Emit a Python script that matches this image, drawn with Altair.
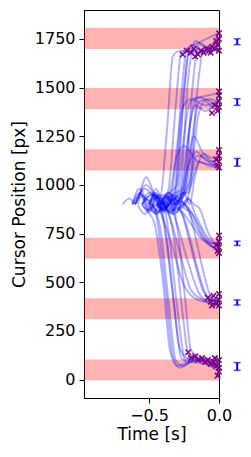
import altair as alt
import pandas as pd

# target bands (px)
band_lo = [-5, 310, 620, 1074, 1389, 1699]
band_hi = [103, 418, 728, 1183, 1498, 1808]

# error bars drawn at the right, outside the axes
err_t = 0.13
err_y = [67, 396, 700, 1116, 1426, 1736]
err_half = [20, 13, 11, 20, 17, 15]

# cursor trajectories (time [s], position [px])
traj_t = [
    # top target
    [-0.62, -0.57, -0.5, -0.45, -0.42, -0.37, -0.33, -0.28, -0.15, 0],
    [-0.55, -0.5, -0.45, -0.4, -0.36, -0.31, -0.27, -0.2, -0.1, 0],
    [-0.5, -0.45, -0.4, -0.32, -0.27, -0.23, -0.15, 0],
    [-0.48, -0.43, -0.38, -0.3, -0.25, -0.2, -0.1, 0],
    [-0.45, -0.4, -0.35, -0.28, -0.22, -0.17, -0.08, 0],
    [-0.4, -0.35, -0.3, -0.24, -0.19, -0.14, -0.07, 0],
    [-0.6, -0.52, -0.45, -0.38, -0.33, -0.27, -0.21, -0.12, 0],
    [-0.38, -0.33, -0.28, -0.21, -0.16, -0.11, -0.05, 0],
    # 1444 target
    [-0.58, -0.52, -0.45, -0.4, -0.35, -0.3, -0.26, -0.2, -0.1, 0],
    [-0.5, -0.45, -0.4, -0.35, -0.3, -0.25, -0.21, -0.15, 0],
    [-0.45, -0.39, -0.33, -0.26, -0.21, -0.17, -0.1, 0],
    [-0.42, -0.36, -0.3, -0.23, -0.18, -0.14, -0.06, 0],
    [-0.35, -0.3, -0.26, -0.2, -0.15, -0.1, -0.05, 0],
    [-0.52, -0.45, -0.38, -0.33, -0.28, -0.22, -0.17, -0.08, 0],
    # 1128 target
    [-0.6, -0.53, -0.45, -0.4, -0.35, -0.3, -0.25, -0.15, 0],
    [-0.5, -0.44, -0.38, -0.33, -0.28, -0.22, -0.16, -0.08, 0],
    [-0.44, -0.37, -0.3, -0.26, -0.22, -0.16, -0.1, -0.04, 0],
    [-0.4, -0.34, -0.28, -0.24, -0.2, -0.14, -0.08, 0],
    [-0.35, -0.3, -0.25, -0.21, -0.17, -0.11, -0.05, 0],
    [-0.55, -0.48, -0.4, -0.33, -0.26, -0.18, -0.12, -0.05, 0],
    # 674 target
    [-0.55, -0.48, -0.42, -0.36, -0.3, -0.2, -0.12, -0.05, 0],
    [-0.48, -0.42, -0.35, -0.3, -0.25, -0.16, -0.09, -0.03, 0],
    [-0.42, -0.36, -0.3, -0.25, -0.2, -0.12, -0.06, 0],
    [-0.38, -0.32, -0.26, -0.22, -0.17, -0.1, -0.04, 0],
    [-0.5, -0.43, -0.36, -0.3, -0.24, -0.15, -0.08, 0],
    [-0.32, -0.27, -0.22, -0.18, -0.14, -0.08, -0.03, 0],
    # 364 target
    [-0.62, -0.56, -0.5, -0.46, -0.42, -0.34, -0.26, -0.18, -0.1, 0],
    [-0.55, -0.5, -0.44, -0.4, -0.36, -0.28, -0.2, -0.12, 0],
    [-0.5, -0.44, -0.38, -0.34, -0.3, -0.22, -0.14, -0.07, 0],
    [-0.45, -0.39, -0.33, -0.29, -0.25, -0.18, -0.11, -0.05, 0],
    [-0.4, -0.35, -0.3, -0.26, -0.22, -0.15, -0.08, 0],
    [-0.35, -0.3, -0.26, -0.22, -0.19, -0.12, -0.06, 0],
    # 50 target
    [-0.69, -0.64, -0.6, -0.56, -0.52, -0.46, -0.4, -0.35, -0.3, -0.2, -0.1, 0],
    [-0.62, -0.57, -0.52, -0.48, -0.45, -0.38, -0.33, -0.28, -0.18, 0],
    [-0.58, -0.53, -0.48, -0.45, -0.42, -0.36, -0.31, -0.26, -0.15, 0],
    [-0.55, -0.5, -0.45, -0.41, -0.38, -0.32, -0.27, -0.22, -0.1, 0],
    [-0.5, -0.46, -0.42, -0.38, -0.35, -0.29, -0.24, -0.2, -0.1, 0],
    [-0.47, -0.42, -0.38, -0.35, -0.32, -0.26, -0.22, -0.17, -0.05, 0],
    [-0.44, -0.39, -0.35, -0.32, -0.29, -0.24, -0.2, -0.15, -0.05, 0],
    [-0.6, -0.55, -0.5, -0.45, -0.4, -0.34, -0.28, -0.23, -0.12, 0],
]
traj_y = [
    [900, 960, 905, 980, 950, 1300, 1660, 1690, 1680, 1720],
    [895, 870, 940, 900, 980, 1400, 1680, 1700, 1690, 1760],
    [905, 950, 880, 950, 1450, 1700, 1730, 1780],
    [900, 860, 940, 1000, 1500, 1720, 1690, 1700],
    [890, 950, 920, 960, 1550, 1740, 1700, 1740],
    [910, 860, 900, 1000, 1500, 1730, 1700, 1690],
    [900, 1000, 940, 900, 870, 1300, 1690, 1680, 1700],
    [900, 950, 930, 1000, 1450, 1700, 1720, 1790],
    [900, 1040, 930, 880, 900, 1200, 1400, 1440, 1410, 1430],
    [900, 960, 880, 920, 950, 1250, 1420, 1450, 1400],
    [910, 870, 950, 980, 1300, 1410, 1380, 1440],
    [895, 960, 900, 1000, 1300, 1430, 1440, 1420],
    [900, 860, 940, 1050, 1350, 1430, 1400, 1380],
    [905, 850, 940, 900, 930, 1250, 1440, 1460, 1470],
    [900, 980, 920, 870, 960, 1150, 1200, 1120, 1100],
    [900, 850, 950, 900, 930, 1100, 1170, 1120, 1130],
    [895, 940, 900, 960, 960, 1150, 1140, 1100, 1110],
    [910, 850, 930, 900, 1000, 1120, 1100, 1090],
    [900, 940, 960, 900, 1050, 1160, 1140, 1150],
    [900, 950, 870, 920, 950, 1250, 1170, 1120, 1080],
    [900, 950, 930, 860, 880, 800, 720, 700, 690],
    [905, 860, 950, 920, 900, 780, 700, 680, 700],
    [900, 960, 920, 880, 860, 740, 690, 670],
    [895, 850, 900, 930, 850, 750, 700, 720],
    [900, 940, 870, 920, 900, 800, 710, 650],
    [900, 880, 930, 900, 880, 760, 700, 690],
    [900, 950, 920, 960, 870, 700, 500, 420, 400, 410],
    [905, 860, 940, 900, 850, 650, 460, 410, 380],
    [900, 950, 910, 880, 800, 600, 440, 400, 420],
    [895, 870, 930, 900, 820, 620, 450, 410, 400],
    [900, 940, 880, 850, 760, 560, 420, 390],
    [910, 870, 900, 880, 800, 580, 430, 400],
    [900, 930, 905, 960, 880, 800, 500, 150, 70, 90, 80, 60],
    [900, 980, 930, 900, 850, 450, 120, 60, 100, 80],
    [895, 850, 900, 860, 780, 400, 100, 70, 110, 90],
    [900, 960, 940, 880, 760, 380, 110, 90, 100, 60],
    [905, 860, 910, 850, 700, 320, 100, 120, 90, 70],
    [900, 950, 880, 830, 720, 340, 130, 110, 80, 50],
    [900, 860, 930, 870, 740, 400, 150, 120, 100, 80],
    [900, 940, 870, 900, 820, 500, 160, 110, 90, 40],
]

# end-of-movement markers
mark_t = [-0.26, -0.23, -0.2, -0.18, -0.15, -0.13, -0.11, -0.09, -0.07, -0.05, -0.03, -0.01,
          0, 0, 0, -0.02, -0.06, -0.17,
          0, 0, 0, -0.01, -0.03, -0.05, 0,
          0, 0, 0, 0, -0.01, -0.02,
          0, 0, 0, 0, -0.02, -0.01,
          -0.08, -0.06, -0.04, -0.02, 0, 0, 0, -0.05,
          -0.22, -0.2, -0.17, -0.15, -0.12, -0.1, -0.08, -0.06, -0.04, -0.02, 0, 0, 0, -0.01, -0.03]
mark_y = [1670, 1690, 1680, 1700, 1670, 1690, 1680, 1700, 1690, 1710, 1700, 1720,
          1750, 1780, 1690, 1740, 1680, 1660,
          1400, 1430, 1460, 1380, 1410, 1370, 1480,
          1090, 1120, 1150, 1180, 1100, 1130,
          650, 680, 710, 740, 690, 660,
          420, 400, 430, 390, 410, 380, 440, 380,
          140, 110, 120, 100, 110, 90, 100, 80, 90, 70, 60, 40, 100, 20, 110]

rows = []
for i, (ts, ys) in enumerate(zip(traj_t, traj_y)):
    for k, (t, y) in enumerate(zip(ts, ys)):
        rows.append({"id": i, "k": k, "t": t, "y": y})
traj_df = pd.DataFrame(rows)
band_df = pd.DataFrame({"lo": band_lo, "hi": band_hi})
err_df = pd.DataFrame({"t": [err_t] * len(err_y), "lo": [a - b for a, b in zip(err_y, err_half)],
                       "hi": [a + b for a, b in zip(err_y, err_half)]})
mark_df = pd.DataFrame({"t": mark_t, "y": mark_y})

xs = alt.Scale(domain=[-0.965, 0], nice=False, zero=False)
ys = alt.Scale(domain=[-95, 1899], nice=False, zero=False)

xax = alt.Axis(values=[-0.5, 0.0], format=".1f", title="Time [s]", labelFlush=False)
yax = alt.Axis(values=[0, 250, 500, 750, 1000, 1250, 1500, 1750], format="d",
               title="Cursor Position [px]", labelFlush=False)

bands = alt.Chart(band_df).mark_rect(color="red", opacity=0.3).encode(
    y=alt.Y("lo:Q", scale=ys, axis=yax), y2="hi:Q",
    x=alt.value(0), x2=alt.value(135))

lines = alt.Chart(traj_df).mark_line(color="blue", opacity=0.3, strokeWidth=2,
                                     interpolate="monotone").encode(
    x=alt.X("t:Q", scale=xs, axis=xax), y=alt.Y("y:Q", scale=ys), detail="id:N", order="k:Q")

xpath = "M-1,-1L1,1M-1,1L1,-1"
marks = alt.Chart(mark_df).mark_point(shape=xpath, color="purple", filled=False, size=30,
                                      strokeWidth=1.5, opacity=1).encode(
    x=alt.X("t:Q", scale=xs), y=alt.Y("y:Q", scale=ys))

err_rule = alt.Chart(err_df).mark_rule(color="blue", strokeWidth=2).encode(
    x=alt.X("t:Q", scale=xs), y=alt.Y("lo:Q", scale=ys), y2="hi:Q")
err_lo = alt.Chart(err_df).mark_tick(color="blue", orient="horizontal", size=7, thickness=1.5).encode(
    x=alt.X("t:Q", scale=xs), y=alt.Y("lo:Q", scale=ys))
err_hi = alt.Chart(err_df).mark_tick(color="blue", orient="horizontal", size=7, thickness=1.5).encode(
    x=alt.X("t:Q", scale=xs), y=alt.Y("hi:Q", scale=ys))

chart = alt.layer(bands, lines, marks, err_rule, err_lo, err_hi).properties(
    width=135, height=388,
    autosize=alt.AutoSizeParams(type="none"),
    padding={"left": 76, "top": 2, "right": 22, "bottom": 48},
).configure_view(stroke="black", strokeWidth=1).configure_axis(
    grid=False, domainColor="black", tickColor="black", tickSize=5, labelPadding=4,
    labelFont="DejaVu Sans", titleFont="DejaVu Sans", labelFontSize=16, titleFontSize=17,
    titleFontWeight="normal", labelColor="black", titleColor="black", domainWidth=1,
).configure_axisY(titlePadding=6).configure_axisX(titlePadding=3)

chart.save("out.html", embed_options={"renderer": "svg", "actions": False})
